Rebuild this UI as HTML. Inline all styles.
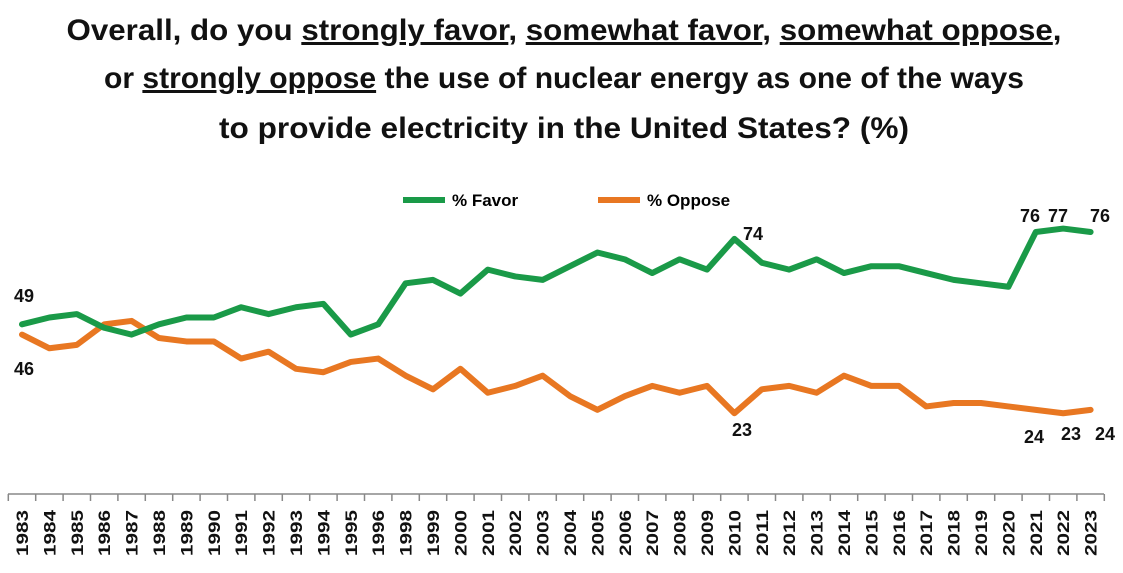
<!DOCTYPE html>
<html><head><meta charset="utf-8"><style>
html,body{margin:0;padding:0;background:#fff;width:1123px;height:573px;overflow:hidden}
svg{display:block;font-family:"Liberation Sans",sans-serif}
.t{font-weight:bold;font-size:30px;fill:#111}
.u{text-decoration:underline}
.lbl{font-weight:bold;font-size:18px;fill:#111}
.yr{font-weight:bold;font-size:17px;fill:#111}
</style></head><body>
<svg id="chart" width="1123" height="573">
<g>
<text class="t" x="564" y="40" text-anchor="middle" textLength="995" lengthAdjust="spacingAndGlyphs">Overall, do you <tspan class="u">strongly favor</tspan>, <tspan class="u">somewhat favor</tspan>, <tspan class="u">somewhat oppose</tspan>,</text>
<text class="t" x="564" y="88" text-anchor="middle" textLength="920" lengthAdjust="spacingAndGlyphs">or <tspan class="u">strongly oppose</tspan> the use of nuclear energy as one of the ways</text>
<text class="t" x="564" y="138" text-anchor="middle" textLength="690" lengthAdjust="spacingAndGlyphs">to provide electricity in the United States? (%)</text>
</g>
<g>
<line x1="403" y1="200" x2="445" y2="200" stroke="#1a9a48" stroke-width="6"/>
<text x="452" y="206" font-weight="bold" font-size="17">% Favor</text>
<line x1="598" y1="200" x2="640" y2="200" stroke="#e87722" stroke-width="6"/>
<text x="647" y="206" font-weight="bold" font-size="17">% Oppose</text>
</g>
<g id="axis"></g>
<g id="series"></g>
<g>
<text class="lbl" x="24" y="302" text-anchor="middle">49</text>
<text class="lbl" x="24" y="375" text-anchor="middle">46</text>
<text class="lbl" x="753" y="240" text-anchor="middle">74</text>
<text class="lbl" x="742" y="436" text-anchor="middle">23</text>
<text class="lbl" x="1030" y="222" text-anchor="middle">76</text>
<text class="lbl" x="1058" y="222" text-anchor="middle">77</text>
<text class="lbl" x="1100" y="222" text-anchor="middle">76</text>
<text class="lbl" x="1034" y="443" text-anchor="middle">24</text>
<text class="lbl" x="1071" y="440" text-anchor="middle">23</text>
<text class="lbl" x="1105" y="440" text-anchor="middle">24</text>
</g>
</svg>
<script>
const years=["1983","1984","1985","1986","1987","1988","1989","1990","1991","1992","1993","1994","1995","1996","1998","1999","2000","2001","2002","2003","2004","2005","2006","2007","2008","2009","2010","2011","2012","2013","2014","2015","2016","2017","2018","2019","2020","2021","2022","2023"];
const favor=[49,51,52,48,46,49,51,51,54,52,54,55,46,49,61,62,58,65,63,62,66,70,68,64,68,65,74,67,65,68,64,66,66,64,62,61,60,76,77,76];
const oppose=[46,42,43,49,50,45,44,44,39,41,36,35,38,39,34,30,36,29,31,34,28,24,28,31,29,31,23,30,31,29,34,31,31,25,26,26,25,24,23,24];
const NS="http://www.w3.org/2000/svg";
const step=27.4, x0=22;
function xs(i){return x0+i*step;}
function ys(v){return 232+(76-v)*3.42;}
const axis=document.getElementById('axis');
const al=document.createElementNS(NS,'line');
al.setAttribute('x1',8);al.setAttribute('x2',1104);al.setAttribute('y1',494);al.setAttribute('y2',494);
al.setAttribute('stroke','#888');al.setAttribute('stroke-width','1.5');


axis.appendChild(al);
for(let i=0;i<=years.length;i++){
  const tk=document.createElementNS(NS,'line');
  const tx=xs(i)-step/2;
  tk.setAttribute('x1',tx);tk.setAttribute('x2',tx);tk.setAttribute('y1',494);tk.setAttribute('y2',501);
  tk.setAttribute('stroke','#888');tk.setAttribute('stroke-width','1.5');
  
  
  axis.appendChild(tk);
}
years.forEach((y,i)=>{
  const t=document.createElementNS(NS,'text');
  t.setAttribute('class','yr');
  t.setAttribute('transform','translate('+(xs(i)+6)+',556) rotate(-90)');
  t.setAttribute('textLength','46');
  t.setAttribute('lengthAdjust','spacingAndGlyphs');
  t.textContent=y;
  
  
  axis.appendChild(t);
});
const g=document.getElementById('series');
function line(vals,color,name){
  const p=document.createElementNS(NS,'polyline');
  p.setAttribute('points',vals.map((v,i)=>xs(i)+','+ys(v)).join(' '));
  p.setAttribute('fill','none');p.setAttribute('stroke',color);p.setAttribute('stroke-width','6');
  p.setAttribute('stroke-linejoin','round');p.setAttribute('stroke-linecap','round');
  
  
  g.appendChild(p);
}
line(oppose,'#e87722','oppose-line');
line(favor,'#1a9a48','favor-line');
</script>
</body></html>
